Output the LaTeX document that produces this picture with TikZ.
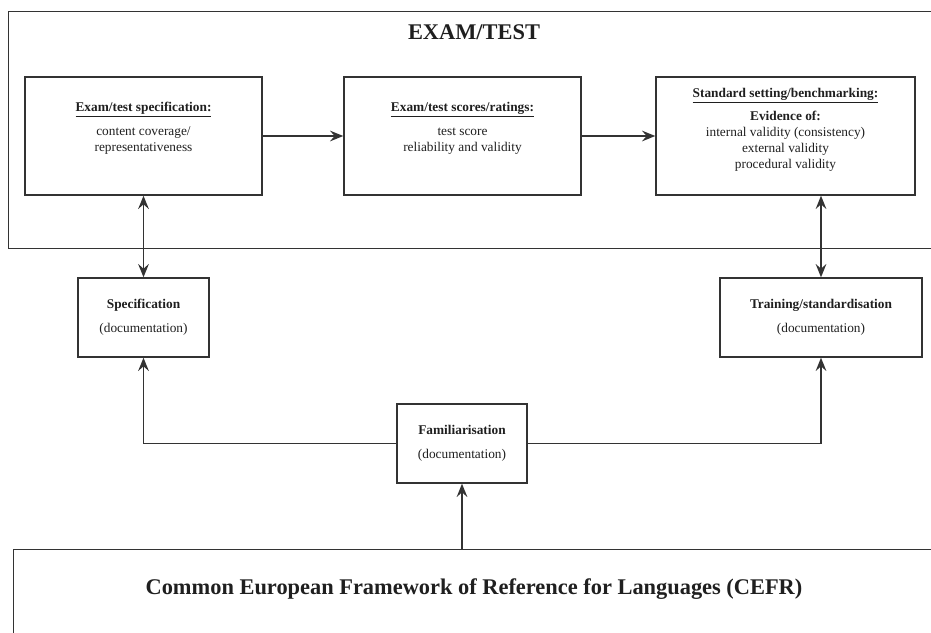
\documentclass[tikz,border=0pt]{standalone}
\usepackage{fontspec}
\setmainfont{Liberation Serif}
\usetikzlibrary{arrows.meta,positioning}
\definecolor{LineClr}{rgb}{0.2,0.2,0.2}
\definecolor{TextClr}{rgb}{0.12,0.12,0.12}

\begin{document}
\begin{tikzpicture}[x=0.75pt,y=-0.75pt,
  frame/.style={draw=LineClr,line width=1pt,inner sep=0pt,anchor=north west},
  examblock/.style={draw=LineClr,line width=1pt,minimum width=177.75pt,minimum height=88.5pt},
  docblock/.style={draw=LineClr,line width=1pt,minimum height=59.25pt,align=center,
    font=\fontsize{10}{12}\selectfont,text=TextClr},
  blocktext/.style={align=center,font=\fontsize{10}{12}\selectfont,text=TextClr},
  bigtitle/.style={font=\fontsize{16.8}{20}\selectfont\bfseries,text=TextClr},
  conn/.style={draw=LineClr,line width=1.1pt,-{Stealth[length=10pt,width=8pt,inset=3.5pt]}},
  dconn/.style={draw=LineClr,line width=1.1pt,{Stealth[length=10pt,width=8pt,inset=3.5pt]}-{Stealth[length=10pt,width=8pt,inset=3.5pt]}}]
\useasboundingbox (0,0) rectangle (931,632);
\clip (0,0) rectangle (931,632);

% outer frames
\node[frame,minimum width=702.75pt,minimum height=177.75pt] (exam) at (8,11) {};
\node[bigtitle] (examtitle) at (474,32) {EXAM/TEST};
\node[frame,minimum width=701.25pt,minimum height=75pt] (cefr) at (13,549) {};
\node[bigtitle] (cefrtitle) at (474,589) {Common European Framework of Reference for Languages (CEFR)};

% exam/test blocks
\node[examblock] (examspec) at (143.5,136) {};
\node[blocktext] (examspectext) at ([yshift=5.5pt]examspec.center)
  {\textbf{\underline{Exam/test specification:}}\\[6pt]content coverage/\\representativeness};
\node[examblock] (examscore) at (462.5,136) {};
\node[blocktext] (examscoretext) at ([yshift=5.5pt]examscore.center)
  {\textbf{\underline{Exam/test scores/ratings:}}\\[6pt]test score\\reliability and validity};
\node[examblock,minimum width=194.25pt] (standard) at (785.5,136) {};
\node[blocktext] (standardtext) at ([yshift=4.5pt]standard.center)
  {\textbf{\underline{Standard setting/benchmarking:}}\\[5pt]\textbf{Evidence of:}\\
   internal validity (consistency)\\external validity\\procedural validity};

% documentation blocks
\node[docblock,minimum width=98.25pt] (specdoc) at (143.5,317.5)
  {\textbf{Specification}\\[6pt](documentation)};
\node[docblock,minimum width=151.5pt] (traindoc) at (821,317.5)
  {\textbf{Training/standardisation}\\[6pt](documentation)};
\node[docblock,minimum width=97.5pt] (famdoc) at (462,443.5)
  {\textbf{Familiarisation}\\[6pt](documentation)};

% connectors
\draw[conn] (examspec) -- (examscore);
\draw[conn] (examscore) -- (standard);
\draw[dconn] (examspec) -- (specdoc);
\draw[dconn] (traindoc.north |- standard.south) -- (traindoc.north);
\draw[conn] (famdoc.west) -| (specdoc.south);
\draw[conn] (famdoc.east) -| (traindoc.south);
\draw[conn] (famdoc.south |- cefr.north) -- (famdoc.south);

\end{tikzpicture}
\end{document}
